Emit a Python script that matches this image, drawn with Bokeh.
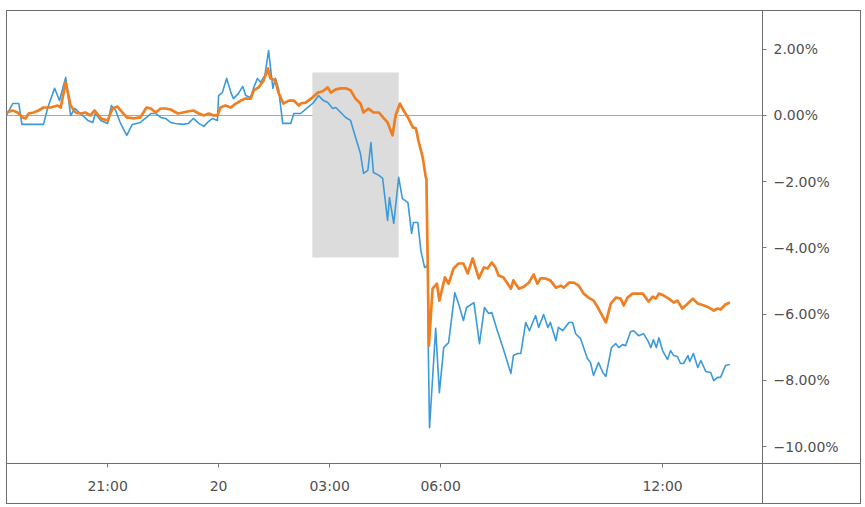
from bokeh.plotting import figure
from bokeh.models import BoxAnnotation, FixedTicker, Range1d
from bokeh.embed import file_html
from bokeh.resources import INLINE

# time axis: minutes from 00:00 on the 20th; values in %
blue_t = [-344, -334, -324, -319, -284, -277, -266, -258, -248, -240, -233, -224, -212, -204, -200,
          -191, -180, -174, -167, -159, -149, -140, -127, -115, -110, -102, -94, -86, -78, -70,
          -58, -49, -41, -32, -24, -18, -10, -2, 0, 6, 13, 20, 24, 32, 39, 44, 52, 57, 63, 68,
          75, 81, 88, 92, 97, 104, 117, 122, 128, 133, 144, 154, 162, 170, 177, 185, 190, 198,
          206, 214, 222, 230, 235, 242, 247, 251, 260, 266, 274, 277, 284, 292, 298, 307, 313,
          316, 323, 328, 334, 339, 340, 342, 352, 358, 365, 373, 383, 389, 397, 402, 414, 423,
          431, 438, 443, 452, 461, 469, 474, 478, 485, 490, 498, 504, 514, 519, 527, 534, 538,
          547, 551, 558, 568, 574, 579, 587, 598, 603, 608, 616, 623, 628, 637, 644, 649, 655,
          660, 668, 673, 681, 689, 696, 701, 705, 710, 714, 720, 728, 733, 738, 744, 749, 754,
          761, 764, 770, 777, 782, 790, 798, 803, 809, 814, 822, 829]
blue_v = [0.00, 0.36, 0.36, -0.27, -0.27, 0.24, 0.82, 0.45, 1.15, 0.00, 0.21, 0.06, -0.15, -0.21, 0.06,
          -0.15, -0.24, 0.30, 0.15, -0.24, -0.60, -0.27, -0.21, -0.03, 0.06, 0.06, -0.06, -0.09, -0.21, -0.24,
          -0.27, -0.24, -0.09, -0.24, -0.33, -0.21, -0.09, -0.15, 0.60, 0.69, 1.12, 0.69, 0.51, 0.66, 0.88, 0.60, 0.54, 0.85, 1.12, 1.00,
          1.21, 1.96, 0.82, 1.12, 0.82, -0.24, -0.24, 0.06, 0.06, 0.06, 0.24, 0.39, 0.60, 0.45, 0.39, 0.21, 0.24, 0.09,
          -0.06, -0.15, -0.66, -1.15, -1.75, -1.66, -0.82, -1.72, -1.81, -1.90, -3.17, -2.48, -3.26, -1.87, -2.51, -2.63, -3.56,
          -3.23, -3.23, -4.08, -4.59, -4.53, -7.01, -9.43, -6.43, -8.37, -7.01, -6.86, -5.35, -5.68, -6.19, -5.80, -5.65, -6.89,
          -5.80, -5.98, -5.95, -6.50, -7.01, -7.49, -7.79, -7.25, -7.19, -7.19, -6.25, -6.50, -6.04, -6.40, -6.01, -6.40, -6.25,
          -6.80, -6.40, -6.50, -6.25, -6.25, -6.59, -6.74, -7.34, -7.46, -7.85, -7.46, -7.76, -7.88, -7.01, -6.89, -7.01, -6.92,
          -6.95, -6.53, -6.50, -6.65, -6.59, -6.80, -7.01, -6.77, -7.01, -6.71, -7.10, -7.37, -7.10, -7.25, -7.28, -7.49, -7.49,
          -7.25, -7.43, -7.19, -7.61, -7.40, -7.73, -7.76, -8.01, -7.91, -7.91, -7.55, -7.52]

orange_t = [-344, -334, -326, -318, -313, -308, -300, -292, -284, -272, -261, -256, -248, -240, -232,
            -224, -216, -208, -201, -191, -180, -172, -164, -156, -149, -138, -127, -117, -110, -102,
            -94, -86, -78, -66, -58, -50, -41, -32, -24, -16, -8, -2, 3, 11, 20, 28, 36, 44, 52, 57,
            65, 73, 80, 84, 92, 97, 105, 114, 122, 130, 133, 141, 152, 161, 169, 177, 182, 190, 198,
            206, 214, 222, 230, 235, 243, 251, 260, 268, 274, 282, 287, 294, 300, 307, 315, 320, 324,
            331, 336, 337, 339, 341, 347, 354, 358, 367, 373, 381, 389, 397, 404, 412, 422, 430, 436,
            443, 449, 454, 462, 474, 478, 487, 495, 503, 511, 517, 522, 530, 538, 547, 555, 560, 568,
            576, 584, 592, 600, 608, 616, 628, 636, 644, 652, 657, 663, 671, 680, 688, 697, 704, 709,
            714, 722, 730, 738, 744, 752, 761, 769, 777, 787, 795, 803, 809, 814, 822, 829]
orange_v = [0.09, 0.15, 0.09, -0.06, -0.09, 0.06, 0.09, 0.15, 0.24, 0.24, 0.30, 0.24, 1.00, 0.30, 0.09,
            0.06, 0.09, 0.00, 0.15, -0.09, -0.15, 0.21, 0.27, 0.09, -0.06, -0.09, -0.06, 0.24, 0.21, 0.09,
            0.21, 0.21, 0.18, 0.06, 0.09, 0.12, 0.15, 0.06, 0.00, 0.06, 0.00, 0.00, 0.24, 0.30, 0.24, 0.36, 0.45, 0.51, 0.51, 0.76,
            0.85, 1.06, 1.42, 1.12, 1.06, 0.69, 0.36, 0.45, 0.45, 0.30, 0.36, 0.39, 0.54, 0.69, 0.73, 0.85, 0.69, 0.79, 0.82,
            0.82, 0.76, 0.51, 0.36, 0.09, 0.21, 0.09, 0.09, -0.09, -0.21, -0.60, 0.00, 0.36, 0.15, -0.06, -0.36, -0.39, -0.76,
            -1.27, -1.87, -1.90, -4.38, -6.95, -5.23, -5.08, -5.59, -4.89, -5.08, -4.62, -4.47, -4.47, -4.77, -4.32, -4.92, -4.59, -4.62,
            -4.44, -4.59, -4.83, -4.89, -5.23, -4.98, -5.23, -5.17, -5.05, -4.80, -5.08, -4.92, -4.92, -4.98, -5.20, -5.14, -5.20, -5.05,
            -5.05, -5.14, -5.38, -5.50, -5.59, -5.83, -6.25, -5.68, -5.50, -5.53, -5.74, -5.50, -5.38, -5.38, -5.38, -5.62, -5.47, -5.53,
            -5.38, -5.44, -5.53, -5.65, -5.59, -5.83, -5.68, -5.53, -5.68, -5.74, -5.80, -5.89, -5.83, -5.86, -5.71, -5.65]

x_ticks = [-180, 0, 180, 360, 720]
x_tick_labels = ["21:00", "20", "03:00", "06:00", "12:00"]
y_ticks = [2, 0, -2, -4, -6, -8, -10]
y_tick_labels = ["2.00%", "0.00%", "\u22122.00%", "\u22124.00%", "\u22126.00%", "\u22128.00%", "\u221210.00%"]
highlight_start, highlight_end = 152, 292      # minutes
highlight_top, highlight_bottom = 1.30, -4.29  # %

BLUE = "#3b9ad9"
ORANGE = "#ee7f22"
FONT = "DejaVu Sans"
TXT = "#505050"
EDGE = "#6e6e6e"

W, H = 861, 504
FL, FT, FR, FB = 6, 10, 762, 463   # frame edges on the canvas

# outer box and the cell under the price scale, drawn as host CSS background
segs = [  # (x, y, w, h)
    (FL, FT, 1, H - FT),          # left edge
    (FL, FT, W - FL, 1),          # top edge
    (W - 1, FT, 1, H - FT),       # right edge
    (FL, H - 1, W - FL, 1),       # bottom edge
    (FR, FB, 1, H - FB),          # divider under price scale
    (FR, FB, W - FR, 1),          # divider right of time scale
]
css = {
    "background-image": ", ".join([f"linear-gradient({EDGE}, {EDGE})"] * len(segs)),
    "background-size": ", ".join(f"{w}px {h}px" for (x, y, w, h) in segs),
    "background-position": ", ".join(f"{x}px {y}px" for (x, y, w, h) in segs),
    "background-repeat": "no-repeat",
    "background-color": "white",
}

p = figure(width=W, height=H, x_range=Range1d(-344, 882), y_range=Range1d(-10.51, 3.17),
           output_backend="svg", toolbar_location=None, y_axis_location="right",
           min_border_left=FL, min_border_right=W - FR, min_border_top=FT, min_border_bottom=H - FB,
           styles=css)
p.background_fill_color = "white"
p.border_fill_color = None
p.outline_line_color = EDGE

p.add_layout(BoxAnnotation(left=highlight_start, right=highlight_end, top=highlight_top,
                           bottom=highlight_bottom, fill_color="#dcdcdc", fill_alpha=1.0,
                           line_color=None, level="underlay"))

p.xgrid.visible = False
p.ygrid.ticker = FixedTicker(ticks=[0])
p.ygrid.grid_line_color = "#a8a8a8"
p.ygrid.grid_line_width = 1

p.line(blue_t, blue_v, line_color=BLUE, line_width=1.6, line_join="round")
p.line(orange_t, orange_v, line_color=ORANGE, line_width=2.7, line_join="round")

xa = p.xaxis[0]
xa.ticker = FixedTicker(ticks=x_ticks)
xa.major_label_overrides = {t: lab for t, lab in zip(x_ticks, x_tick_labels)}
xa.minor_tick_line_color = None
xa.major_tick_in = 0
xa.major_tick_out = 4
xa.major_tick_line_color = "#777777"
xa.axis_line_color = EDGE
xa.major_label_text_font = FONT
xa.major_label_text_font_size = "14px"
xa.major_label_text_color = TXT
xa.major_label_standoff = 10

ya = p.yaxis[0]
ya.ticker = FixedTicker(ticks=y_ticks)
ya.major_label_overrides = {t: lab for t, lab in zip(y_ticks, y_tick_labels)}
ya.minor_tick_line_color = None
ya.major_tick_in = 0
ya.major_tick_out = 4
ya.major_tick_line_color = "#777777"
ya.axis_line_color = EDGE
ya.major_label_text_font = FONT
ya.major_label_text_font_size = "14px"
ya.major_label_text_color = TXT
ya.major_label_standoff = 7

open("out.html", "w").write(file_html(p, INLINE))
